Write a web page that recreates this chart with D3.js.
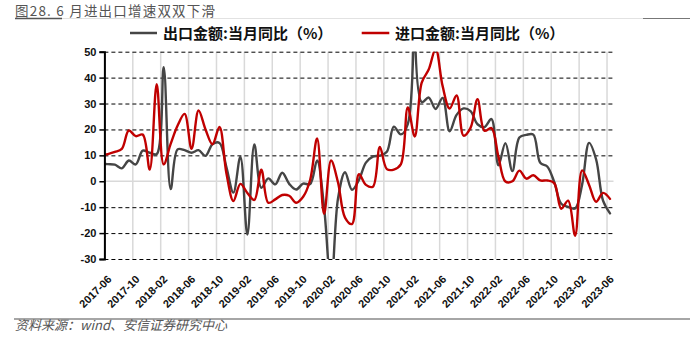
<!DOCTYPE html>
<html><head><meta charset="utf-8">
<script src="https://cdn.jsdelivr.net/npm/d3@7"></script>
<style>html,body{margin:0;padding:0;background:#fff;} svg{display:block;}</style>
</head><body>
<svg id="c" width="699" height="342"></svg>
<script>
// ---- data (month categories, series values, tick labels) ----
const months = [
  "2017-05","2017-06","2017-07","2017-08","2017-09","2017-10","2017-11","2017-12",
  "2018-01","2018-02","2018-03","2018-04","2018-05","2018-06","2018-07","2018-08","2018-09","2018-10","2018-11","2018-12",
  "2019-01","2019-02","2019-03","2019-04","2019-05","2019-06","2019-07","2019-08","2019-09","2019-10","2019-11","2019-12",
  "2020-01","2020-02","2020-03","2020-04","2020-05","2020-06","2020-07","2020-08","2020-09","2020-10","2020-11","2020-12",
  "2021-01","2021-02","2021-03","2021-04","2021-05","2021-06","2021-07","2021-08","2021-09","2021-10","2021-11","2021-12",
  "2022-01","2022-02","2022-03","2022-04","2022-05","2022-06","2022-07","2022-08","2022-09","2022-10","2022-11","2022-12",
  "2023-01","2023-02","2023-03","2023-04","2023-05","2023-06"
];
const exportYoY = [
  6.8, 6.6, 6.4, 5.0, 8.0, 6.5, 11.8, 11.0,
  10.5, 44.0, -3.0, 12.3, 12.0, 11.0, 12.0, 9.8, 14.3, 14.8, 5.4, -4.4,
  9.5, -20.6, 14.2, -2.5, 1.1, -1.2, 3.3, -1.0, -3.2, -0.9, -1.1, 8.0,
  -10.0, -40.6, -6.6, 3.5, -3.3, 0.5, 7.2, 9.5, 9.9, 11.4, 21.1, 18.1,
  22.0, 154.9, 30.6, 32.3, 27.9, 32.2, 19.3, 25.6, 28.1, 27.1, 22.0, 20.9,
  24.0, 6.2, 14.7, 3.9, 16.9, 17.9, 18.0, 7.1, 5.7, -0.3, -8.7, -9.9,
  -10.5, -1.3, 14.8, 8.5, -7.5, -12.4
];
const importYoY = [
  10.0, 10.5, 11.3, 12.5, 19.6, 17.4, 18.0, 4.5,
  37.5, 6.5, 14.4, 21.5, 26.0, 12.5, 27.3, 20.0, 14.3, 21.0, 3.0, -7.6,
  -1.0, -4.5, -7.2, 4.5, -8.3, -7.0, -5.3, -5.6, -8.3, -6.0, 0.5, 16.5,
  -12.6, 8.0, -0.5, -14.0, -16.5, 2.7, -1.4, -2.1, 13.2, 4.7, 4.5, 6.5,
  28.5, 17.3, 38.1, 43.1, 51.1, 36.7, 28.1, 33.1, 17.6, 20.6, 31.7, 19.5,
  20.5, 9.5, -0.1, 0.0, 4.1, 1.0, 2.3, 0.3, 0.3, -0.7, -10.6, -7.5,
  -21.0, 4.2, -1.4, -7.9, -4.5, -6.8
];
const xTickLabels = ["2017-06","2017-10","2018-02","2018-06","2018-10","2019-02","2019-06","2019-10",
  "2020-02","2020-06","2020-10","2021-02","2021-06","2021-10","2022-02","2022-06","2022-10","2023-02","2023-06"];
const yTicks = [-30,-20,-10,0,10,20,30,40,50];
const seriesNames = ["出口金额:当月同比（%）","进口金额:当月同比（%）"];
const seriesColors = ["#454545","#c00000"];
const titleText = "图28. 6 月进出口增速双双下滑";
const sourceText = "资料来源：wind、安信证券研究中心";

// ---- layout ----
const L = 104.4, R = 613.5, T = 51.7, B = 259;
const svg = d3.select("#c");
const idx = m => months.indexOf(m) - 1;          // 2017-06 -> 0
const x = d3.scaleLinear().domain([0, 73]).range([L, R]);
const y = d3.scaleLinear().domain([-30, 50]).range([B, T]);
const px = m => x(idx(m) + 0.5);

// title & rules
svg.append("line").attr("x1",15).attr("x2",690).attr("y1",18.5).attr("y2",18.5).attr("stroke","#e2e2e2").attr("stroke-width",1);
svg.append("line").attr("x1",15).attr("x2",62).attr("y1",18.5).attr("y2",18.5).attr("stroke","#555").attr("stroke-width",1.5);
svg.append("line").attr("x1",643).attr("x2",690).attr("y1",18.5).attr("y2",18.5).attr("stroke","#777").attr("stroke-width",1.2);
svg.append("text").attr("x",15).attr("y",16).text(titleText)
  .attr("font-family","'Noto Sans CJK SC', sans-serif").attr("font-size",13.5).attr("fill","#555")
  .attr("letter-spacing",1.2);

// vertical grid
const vg = svg.append("g").attr("transform",`translate(0,${B})`)
  .call(d3.axisBottom(x).tickValues(xTickLabels.map(idx)).tickSize(-(B - T)).tickFormat(""));
vg.select(".domain").remove();
vg.selectAll("line").attr("stroke","#d9d9d9").attr("stroke-width",1.5);

// zero line
svg.append("line").attr("x1",L).attr("x2",R).attr("y1",y(0)).attr("y2",y(0))
  .attr("stroke","#d9d9d9").attr("stroke-width",1.5);

// horizontal dashed grid
const hg = svg.append("g").attr("transform",`translate(${L},0)`)
  .call(d3.axisLeft(y).tickValues(yTicks.filter(v => v !== 0)).tickSize(-(R - L)).tickFormat(""));
hg.select(".domain").remove();
hg.selectAll("line").attr("stroke","#000").attr("stroke-width",1).attr("stroke-dasharray","4,3");

// series
svg.append("defs").append("clipPath").attr("id","plot")
  .append("rect").attr("x",L).attr("y",T).attr("width",R - L).attr("height",B - T);
const line = d3.line().x(d => px(d.m)).y(d => y(d.v)).curve(d3.curveCatmullRom.alpha(0.5));
const series = [exportYoY, importYoY];
const sg = svg.append("g").attr("clip-path","url(#plot)");
series.forEach((vals, k) => {
  sg.append("path").datum(months.map((m, i) => ({m, v: vals[i]})))
    .attr("d", line).attr("fill","none").attr("stroke",seriesColors[k])
    .attr("stroke-width",2.4).attr("stroke-linejoin","round").attr("stroke-linecap","round");
});

// y axis
const ya = svg.append("g").attr("transform",`translate(${L},0)`)
  .call(d3.axisLeft(y).tickValues(yTicks).tickSize(5).tickPadding(3).tickFormat(d => String(d)));
ya.select(".domain").attr("stroke","#000").attr("stroke-width",2);
ya.selectAll(".tick line").attr("stroke","#000").attr("stroke-width",1.5);
ya.selectAll("text").attr("font-family","'Liberation Sans', Arial, sans-serif")
  .attr("font-weight","bold").attr("font-size",11).attr("fill","#111");

// x axis labels
const xa = svg.append("g").attr("transform",`translate(0,${B})`)
  .call(d3.axisBottom(x).tickValues(xTickLabels.map(idx)).tickSize(0).tickFormat((d, i) => xTickLabels[i]));
xa.select(".domain").remove();
xa.selectAll("text").attr("x",0).attr("y",0).attr("dy",0)
  .attr("transform","translate(7.5,21) rotate(-45)").style("text-anchor","end")
  .attr("font-family","'Liberation Sans', Arial, sans-serif")
  .attr("font-weight","bold").attr("font-size",11).attr("fill","#111");

// legend
const legendX = [[130,157,163],[361.7,389.3,395]];
seriesNames.forEach((name, k) => {
  const [a, b, t] = legendX[k];
  svg.append("line").attr("x1",a).attr("x2",b).attr("y1",33).attr("y2",33)
    .attr("stroke",seriesColors[k]).attr("stroke-width",2.5);
  svg.append("text").attr("x",t).attr("y",38.5).text(name)
    .attr("font-family","'Noto Sans CJK SC', sans-serif").attr("font-weight","bold")
    .attr("font-size",15).attr("fill","#111");
});

// source
svg.append("line").attr("x1",14).attr("x2",690).attr("y1",319).attr("y2",319)
  .attr("stroke","#888").attr("stroke-width",1.5);
svg.append("text").attr("x",15).attr("y",330).text(sourceText)
  .attr("font-family","'Noto Sans CJK SC', sans-serif").attr("font-size",13)
  .attr("font-style","italic").attr("fill","#555");
</script>
</body></html>
